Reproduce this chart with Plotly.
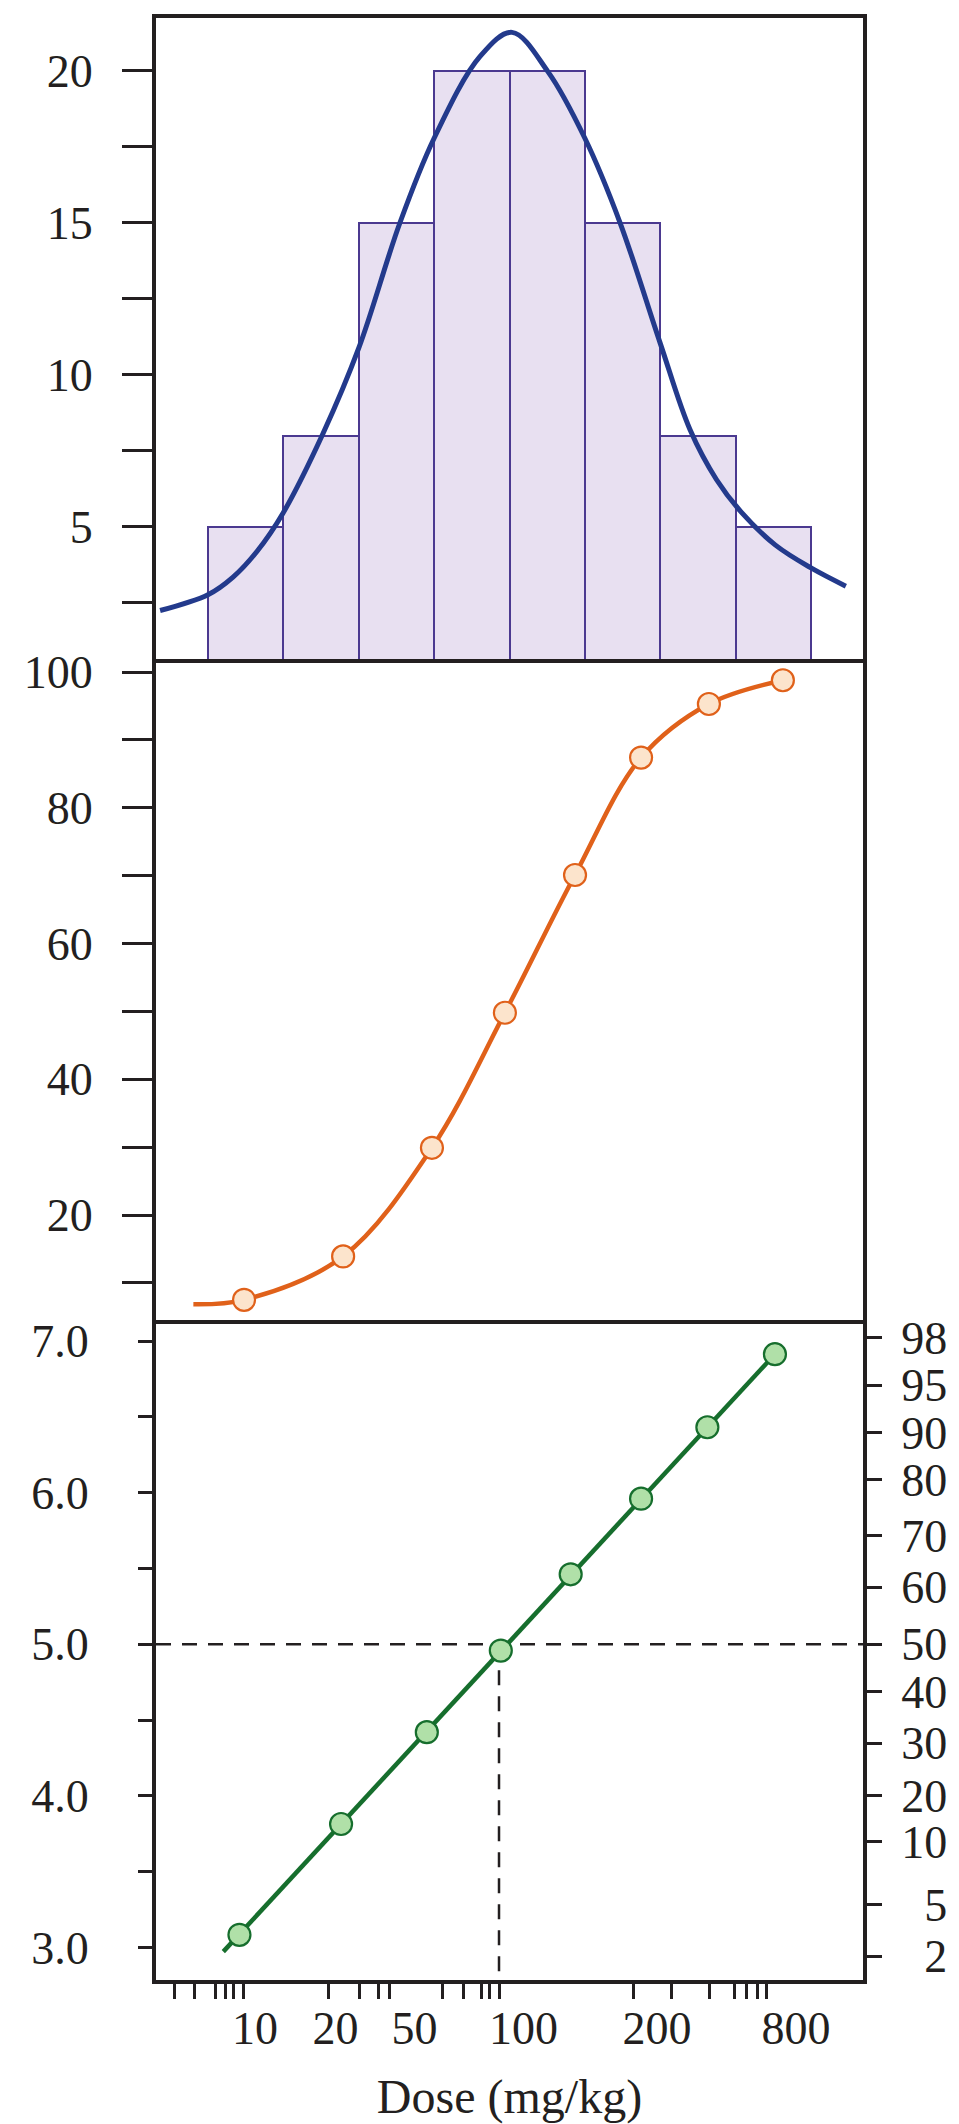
import plotly.graph_objects as go
from plotly.subplots import make_subplots

# ---------------- data (x = log-dose position on the schematic dose axis) ----------------
# top panel: frequency histogram and fitted curve
bin_centers = [1.010, 1.305, 1.599, 1.894, 2.188, 2.483, 2.777, 3.071]
bin_counts = [5, 8, 15, 20, 20, 15, 8, 5]
bin_width = 0.294

curve_x = [0.676, 0.863, 0.961, 1.055, 1.156, 1.3125, 1.453, 1.613, 1.746, 1.926, 2.051,
           2.191, 2.336, 2.473, 2.629, 2.746, 2.85, 2.95, 3.08, 3.219, 3.355]
curve_y = [2.25, 2.77, 3.35, 4.20, 5.45, 8.07, 10.9, 15.0, 17.77, 20.47, 21.26,
           19.97, 17.77, 15.0, 11.06, 8.2, 6.55, 5.45, 4.4, 3.65, 3.05]

# middle panel: cumulative percent responding
cum_x = [1.004, 1.391, 1.738, 2.023, 2.297, 2.555, 2.820, 3.109]
cum_pct = [7.5, 13.9, 29.9, 49.8, 70.1, 87.4, 95.3, 98.8]
cum_start_x = [0.806]
cum_start_y = [6.84]

# bottom panel: probits
probit_x = [0.986, 1.383, 1.718, 2.007, 2.280, 2.555, 2.814, 3.078]
probit_y = [3.083, 3.814, 4.420, 4.958, 5.461, 5.960, 6.431, 6.913]
fit_x = [0.923, 3.078]
fit_y = [2.972, 6.913]
ed50_x = 2.0
ed50_probit = 5.0

# axes
x_range = [0.660, 3.422]
x_label_pos = [1.047, 1.361, 1.670, 2.096, 2.617, 3.160]
x_labels = ["10", "20", "50", "100", "200", "800"]
x_tick_marks = [0.734, 0.810, 0.891, 0.930, 0.962, 1.0, 1.333, 1.454, 1.529, 1.574,
                1.780, 1.861, 1.930, 1.962, 2.0, 2.525, 2.672, 2.821, 2.919, 2.968, 3.009, 3.044]

y1_range = [0.646, 21.733]
y1_ticks = [2.5, 5, 7.5, 10, 12.5, 15, 17.5, 20]
y1_labels = ["", "5", "", "10", "", "15", "", "20"]

y2_range = [4.527, 101.886]
y2_ticks = [10, 20, 30, 40, 50, 60, 70, 80, 90, 100]
y2_labels = ["", "20", "", "40", "", "60", "", "80", "", "100"]

y3_range = [2.785, 7.1385]
y3_ticks = [3.0, 3.5, 4.0, 4.5, 5.0, 5.5, 6.0, 6.5, 7.0]
y3_labels = ["3.0", "", "4.0", "", "5.0", "", "6.0", "", "7.0"]

pct_pos = [7.022, 6.708, 6.394, 6.084, 5.717, 5.375, 5.0, 4.687, 4.348, 4.001, 3.696, 3.280, 2.941]
pct_labels = ["98", "95", "90", "80", "70", "60", "50", "40", "30", "20", "10", "\u20075", "\u20072"]

# ---------------- styles ----------------
INK = "#231F20"
FONT = "Liberation Serif"

fig = make_subplots(rows=3, cols=1, shared_xaxes=True, vertical_spacing=0,
                    row_heights=[641.3, 660.7, 660.0],
                    specs=[[{}], [{}], [{"secondary_y": True}]])

fig.add_trace(go.Bar(x=bin_centers, y=bin_counts, width=bin_width,
                     marker=dict(color="#E8E0F1", line=dict(color="#4B3990", width=2)),
                     showlegend=False), row=1, col=1)
fig.add_trace(go.Scatter(x=curve_x, y=curve_y, mode="lines",
                         line=dict(color="#233A8C", width=5, shape="spline", smoothing=1.0),
                         showlegend=False), row=1, col=1)

fig.add_trace(go.Scatter(x=cum_start_x + cum_x, y=cum_start_y + cum_pct, mode="lines",
                         line=dict(color="#E0611A", width=4.5, shape="spline", smoothing=1.0),
                         showlegend=False), row=2, col=1)
fig.add_trace(go.Scatter(x=cum_x, y=cum_pct, mode="markers",
                         marker=dict(size=22, color="#FCE4CC", line=dict(color="#E0611A", width=2.2)),
                         showlegend=False), row=2, col=1)

fig.add_trace(go.Scatter(x=fit_x, y=fit_y, mode="lines",
                         line=dict(color="#166E2D", width=4.5), showlegend=False),
              row=3, col=1, secondary_y=False)
fig.add_trace(go.Scatter(x=probit_x, y=probit_y, mode="markers",
                         marker=dict(size=22, color="#B0E0A8", line=dict(color="#166E2D", width=2.2)),
                         showlegend=False), row=3, col=1, secondary_y=False)
# same points referenced on the percent (right) scale so that axis is drawn
fig.add_trace(go.Scatter(x=probit_x, y=probit_y, mode="markers", marker=dict(opacity=0),
                         hoverinfo="skip", showlegend=False),
              row=3, col=1, secondary_y=True)

# dashed ED50 guides
fig.add_shape(type="line", xref="x3 domain", yref="y3", x0=0, x1=1,
              y0=ed50_probit, y1=ed50_probit, layer="below",
              line=dict(color=INK, width=2.5, dash="15px,11px"))
fig.add_shape(type="line", xref="x3", yref="y3", x0=ed50_x, x1=ed50_x,
              y0=ed50_probit, y1=y3_range[0], layer="below",
              line=dict(color=INK, width=2.5, dash="15px,11px"))

line_common = dict(showline=True, linecolor=INK, linewidth=4,
                   showgrid=False, zeroline=False)
tickfont = dict(family=FONT, size=46, color=INK)

fig.update_xaxes(row=1, col=1, range=x_range, domain=[0, 1], ticks="",
                 showticklabels=False, mirror=True, **line_common)
fig.update_xaxes(row=2, col=1, range=x_range, domain=[0, 1], ticks="",
                 showticklabels=False, mirror=False, **line_common)
fig.update_xaxes(row=3, col=1, range=x_range, domain=[0, 1], tickmode="array",
                 tickvals=x_label_pos, ticktext=x_labels, ticks="", tickfont=tickfont,
                 ticklabelstandoff=5, automargin=False, mirror=False,
                 minor=dict(tickmode="array", tickvals=x_tick_marks, ticks="outside",
                            ticklen=15, tickwidth=2.5, tickcolor=INK),
                 title=dict(text="Dose (mg/kg)", font=dict(family=FONT, size=48, color=INK),
                            standoff=28),
                 **line_common)

fig.update_yaxes(row=1, col=1, range=y1_range, tickmode="array", tickvals=y1_ticks,
                 ticktext=y1_labels, ticks="outside", ticklen=30, tickwidth=2.5,
                 tickcolor=INK, tickfont=tickfont, ticklabelstandoff=20, mirror=True,
                 automargin=False, **line_common)
fig.update_yaxes(row=2, col=1, range=y2_range, tickmode="array", tickvals=y2_ticks,
                 ticktext=y2_labels, ticks="outside", ticklen=30, tickwidth=2.5,
                 tickcolor=INK, tickfont=tickfont, ticklabelstandoff=20, mirror=True,
                 automargin=False, **line_common)
fig.update_yaxes(row=3, col=1, secondary_y=False, range=y3_range, tickmode="array",
                 tickvals=y3_ticks, ticktext=y3_labels, ticks="outside", ticklen=14,
                 tickwidth=2.5, tickcolor=INK, tickfont=tickfont, ticklabelstandoff=40,
                 mirror=True, automargin=False, **line_common)
fig.update_yaxes(row=3, col=1, secondary_y=True, range=y3_range, tickmode="array",
                 tickvals=pct_pos, ticktext=pct_labels, ticks="outside", ticklen=15,
                 tickwidth=2.5, tickcolor=INK, automargin=False,
                 tickfont=dict(family=FONT, size=46, color=INK), ticklabelstandoff=10,
                 **line_common)

fig.update_layout(width=959, height=2124, margin=dict(l=156, r=96, t=18, b=144),
                  paper_bgcolor="white", plot_bgcolor="white", bargap=0,
                  showlegend=False)

fig.write_html("out.html")
